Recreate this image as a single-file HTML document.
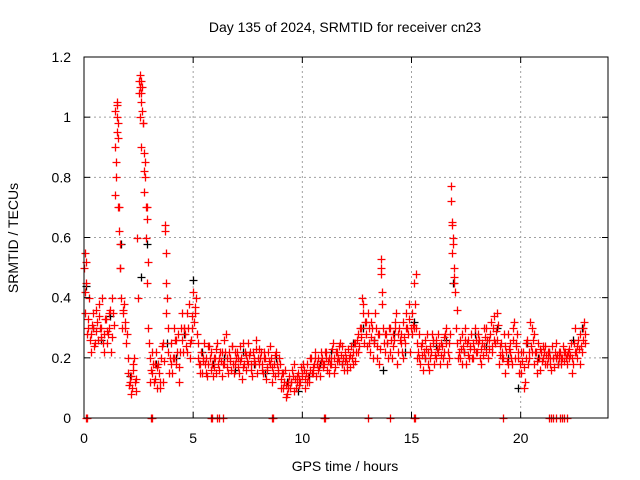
<!DOCTYPE html>
<html><head><meta charset="utf-8"><style>
body{margin:0;background:#fff;}
svg{display:block;font-family:"Liberation Sans",sans-serif;}
</style></head><body>
<svg id="chart" width="640" height="480">
<rect width="640" height="480" fill="#fff"/>
<text x="345" y="32" font-size="14" text-anchor="middle">Day 135 of 2024, SRMTID for receiver cn23</text>
<text x="345" y="471" font-size="14" text-anchor="middle">GPS time / hours</text>
<text transform="translate(18,238) rotate(-90)" font-size="14" text-anchor="middle">SRMTID / TECUs</text>
<g id="grid"></g><g id="marks"></g><g id="axes"></g>
</svg>
<script>
const xTicks=[0,5,10,15,20];
const yTicks=[0,0.2,0.4,0.6,0.8,1,1.2];
const yTickLabels=["0","0.2","0.4","0.6","0.8","1","1.2"];
const redTimes=[];for(let i=0;i<230;i++)redTimes.push(+(i/10).toFixed(1));
const redA=[.50,.45,.30,.28,.35,.25,.32,.38,.30,.22,
.33,.28,.36,.40,1.02,.95,.70,.40,.35,.30,
.15,.12,.10,.20,.13,1.12,1.05,.98,.85,.45,
.20,.15,.12,.22,.18,.10,.25,.62,.40,.15,
.25,.30,.18,.28,.22,.35,.30,.22,.38,.26,
.42,.35,.20,.18,.15,.25,.20,.18,.22,.14,
.20,.25,.16,.22,.18,.28,.15,.20,.24,.18,
.22,.15,.20,.25,.16,.18,.22,.14,.20,.26,
.18,.22,.15,.20,.16,.24,.12,.18,.22,.15,
.13,.10,.16,.08,.14,.12,.18,.10,.15,.12,
.14,.10,.18,.12,.20,.15,.22,.16,.14,.20,
.18,.22,.15,.20,.25,.17,.22,.19,.24,.16,
.20,.23,.17,.22,.19,.26,.24,.30,.38,.28,
.35,.22,.30,.26,.20,.28,.50,.30,.22,.25,
.30,.20,.26,.35,.22,.28,.32,.25,.30,.38,
.28,.45,.30,.22,.18,.25,.20,.28,.16,.22,
.25,.20,.28,.18,.24,.22,.30,.20,.72,.60,
.42,.25,.20,.28,.22,.18,.26,.24,.20,.30,
.22,.26,.18,.24,.30,.20,.28,.22,.34,.26,
.18,.25,.20,.15,.28,.22,.18,.32,.25,.20,
.15,.22,.12,.26,.20,.30,.18,.22,.25,.16,
.20,.24,.18,.22,.16,.20,.25,.18,.22,.20,
.19,.21,.23,.25,.18,.30,.20,.28,.22,.32];
const redB=[.35,.28,.40,.22,.30,.36,.26,.30,.40,.28,
.25,.30,.22,.35,.90,1.05,.50,.30,.38,.25,
.20,.08,.18,.12,.60,1.08,.90,.75,.60,.30,
.12,.22,.18,.10,.15,.20,.12,.45,.30,.20,
.15,.20,.26,.12,.30,.22,.28,.35,.20,.30,
.32,.40,.25,.15,.20,.18,.14,.24,.16,.20,
.15,.18,.22,.14,.26,.20,.22,.16,.18,.22,
.17,.24,.13,.18,.21,.25,.16,.22,.18,.15,
.23,.16,.20,.13,.22,.18,.17,.14,.18,.20,
.10,.15,.07,.12,.10,.16,.09,.14,.11,.17,
.18,.13,.12,.20,.15,.18,.14,.20,.22,.17,
.22,.16,.20,.18,.15,.22,.20,.25,.18,.22,
.16,.20,.24,.18,.25,.22,.30,.40,.25,.32,
.25,.32,.20,.35,.24,.18,.38,.25,.28,.20,
.22,.28,.32,.18,.30,.25,.20,.35,.28,.22,
.35,.30,.20,.28,.24,.16,.26,.18,.24,.28,
.18,.26,.22,.25,.20,.28,.18,.25,.55,.45,
.30,.20,.26,.18,.30,.25,.20,.28,.25,.22,
.28,.20,.25,.30,.22,.26,.32,.30,.25,.35,
.24,.20,.28,.22,.18,.25,.30,.20,.28,.15,
.22,.10,.25,.18,.32,.22,.28,.15,.20,.22,
.24,.18,.22,.20,.24,.17,.20,.22,.18,.24,
.22,.18,.20,.15,.25,.22,.26,.18,.30,.25];
const redC=[.42,.33,.26,.31,.24,.29,.34,.27,.25,.33,
.29,.35,.27,.31,.80,.98,.58,.36,.32,.28,
.11,.14,.16,.09,.40,1.00,1.10,.82,.70,.25,
.16,.18,.13,.17,.12,.24,.19,.35,.22,.18,
.20,.26,.22,.17,.26,.30,.24,.30,.25,.34,
.37,.28,.18,.22,.19,.15,.24,.20,.18,.17,
.23,.20,.19,.18,.22,.17,.19,.24,.15,.20,
.20,.19,.17,.22,.19,.21,.18,.19,.23,.20,
.20,.18,.22,.17,.19,.20,.15,.21,.16,.18,
.15,.12,.11,.10,.12,.14,.13,.12,.13,.15,
.16,.15,.14,.16,.17,.20,.18,.17,.19,.18,
.20,.19,.18,.23,.20,.19,.24,.21,.20,.19,
.18,.21,.20,.25,.22,.28,.27,.35,.32,.24,
.30,.27,.25,.30,.28,.23,.42,.28,.25,.30,
.26,.24,.30,.28,.26,.22,.27,.30,.33,.30,
.31,.38,.25,.20,.21,.22,.23,.22,.20,.26,
.21,.23,.24,.21,.27,.25,.22,.28,.64,.50,
.36,.22,.23,.24,.26,.21,.23,.20,.23,.26,
.25,.23,.21,.27,.26,.23,.24,.26,.29,.31,
.21,.22,.24,.19,.23,.20,.26,.24,.22,.18,
.19,.17,.20,.22,.24,.26,.22,.19,.23,.19,
.22,.21,.20,.18,.20,.22,.21,.20,.20,.22,
.20,.22,.21,.20,.22,.24,.23,.24,.26,.28];
const spikeTimes=[1.40,1.45,1.50,1.52,1.55,1.58,1.60,1.65,2.55,2.58,2.60,2.63,2.65,2.70,2.75,2.80,2.85,2.90,2.95,16.80,16.85,16.90,16.95,13.60,13.62,3.70,3.75,15.20,0.05,0.10];
const spikeValues=[.74,.85,1.00,1.04,.93,.70,.62,.50,1.14,1.10,1.08,1.12,1.02,.98,.88,.80,.70,.66,.52,.77,.65,.58,.47,.53,.48,.64,.55,.48,.55,.52];
const blackTimes=[0.1,0.4,0.8,1.2,1.7,2.1,2.6,2.9,3.3,3.8,4.2,4.6,5.0,5.4,5.9,6.4,6.9,7.3,7.8,8.3,8.8,9.3,9.8,10.3,10.8,11.3,11.8,12.3,12.8,13.3,13.7,14.2,14.7,15.1,15.6,16.1,16.6,16.9,17.4,17.9,18.4,18.9,19.4,19.9,20.3,20.8,21.3,21.7,22.4,22.8];
const blackValues=[.44,.30,.26,.34,.58,.14,.47,.58,.18,.25,.20,.28,.46,.22,.18,.20,.16,.22,.18,.15,.20,.12,.09,.14,.18,.22,.18,.25,.30,.26,.16,.28,.22,.32,.20,.24,.26,.45,.22,.28,.24,.30,.20,.10,.25,.20,.22,.18,.26,.30];
const zeroTimes=[0.1,0.15,3.05,3.1,5.8,5.85,6.1,6.2,6.35,8.6,8.65,11.0,11.05,13.0,14.0,15.1,15.15,19.2,21.3,21.4,21.5,21.6,21.8,21.9,22.0,22.1];

const X0=84,X1=608,Y0=418,Y1=57;
const xs=t=>X0+(t/24)*(X1-X0);
const ys=v=>Y0-(v/1.2)*(Y0-Y1);
const NS="http://www.w3.org/2000/svg";
const grid=document.getElementById('grid'),marks=document.getElementById('marks'),axes=document.getElementById('axes');
function mk(tag,attrs,parent){const e=document.createElementNS(NS,tag);for(const k in attrs)e.setAttribute(k,attrs[k]);parent.appendChild(e);return e;}
xTicks.forEach(t=>{
 if(t>0){const g=mk('line',{x1:xs(t),x2:xs(t),y1:Y0,y2:Y1,stroke:'#a0a0a0','stroke-dasharray':'2,3'},grid);
 
 }
 const lb=mk('text',{x:xs(t),y:Y0+25,'font-size':14,'text-anchor':'middle'},axes);lb.textContent=t;
 
 
 mk('line',{x1:xs(t),x2:xs(t),y1:Y0,y2:Y0-6,stroke:'#000'},axes);
 mk('line',{x1:xs(t),x2:xs(t),y1:Y1,y2:Y1+6,stroke:'#000'},axes);
});
yTicks.forEach((v,i)=>{
 if(v>0&&v<1.2){const g=mk('line',{x1:X0,x2:X1,y1:ys(v),y2:ys(v),stroke:'#a0a0a0','stroke-dasharray':'2,3'},grid);
 
 }
 const lb=mk('text',{x:X0-13,y:ys(v)+5,'font-size':14,'text-anchor':'end'},axes);lb.textContent=yTickLabels[i];
 
 
 mk('line',{x1:X0,x2:X0+6,y1:ys(v),y2:ys(v),stroke:'#000'},axes);
 mk('line',{x1:X1,x2:X1-6,y1:ys(v),y2:ys(v),stroke:'#000'},axes);
});
const frame=mk('rect',{x:X0,y:Y1,width:X1-X0,height:Y0-Y1,fill:'none',stroke:'#000'},axes);


function plus(t,v,color,name){
 const x=Math.round(xs(t))+0.5,y=Math.round(ys(v))+0.5;
 const p=mk('path',{d:`M${x-4},${y}H${x+4}M${x},${y-4}V${y+4}`,stroke:color,'stroke-width':1.3,fill:'none'},marks);
 
 
}
blackTimes.forEach((t,i)=>plus(t,blackValues[i],'#000','black-point'));
redTimes.forEach((t,i)=>{plus(t,redA[i],'#f00','red-point');plus(t+0.033,redB[i],'#f00','red-point');plus(t+0.066,redC[i],'#f00','red-point');});
spikeTimes.forEach((t,i)=>plus(t,spikeValues[i],'#f00','red-spike-point'));
zeroTimes.forEach(t=>plus(t,0,'#f00','red-zero-point'));
</script>
</body></html>
